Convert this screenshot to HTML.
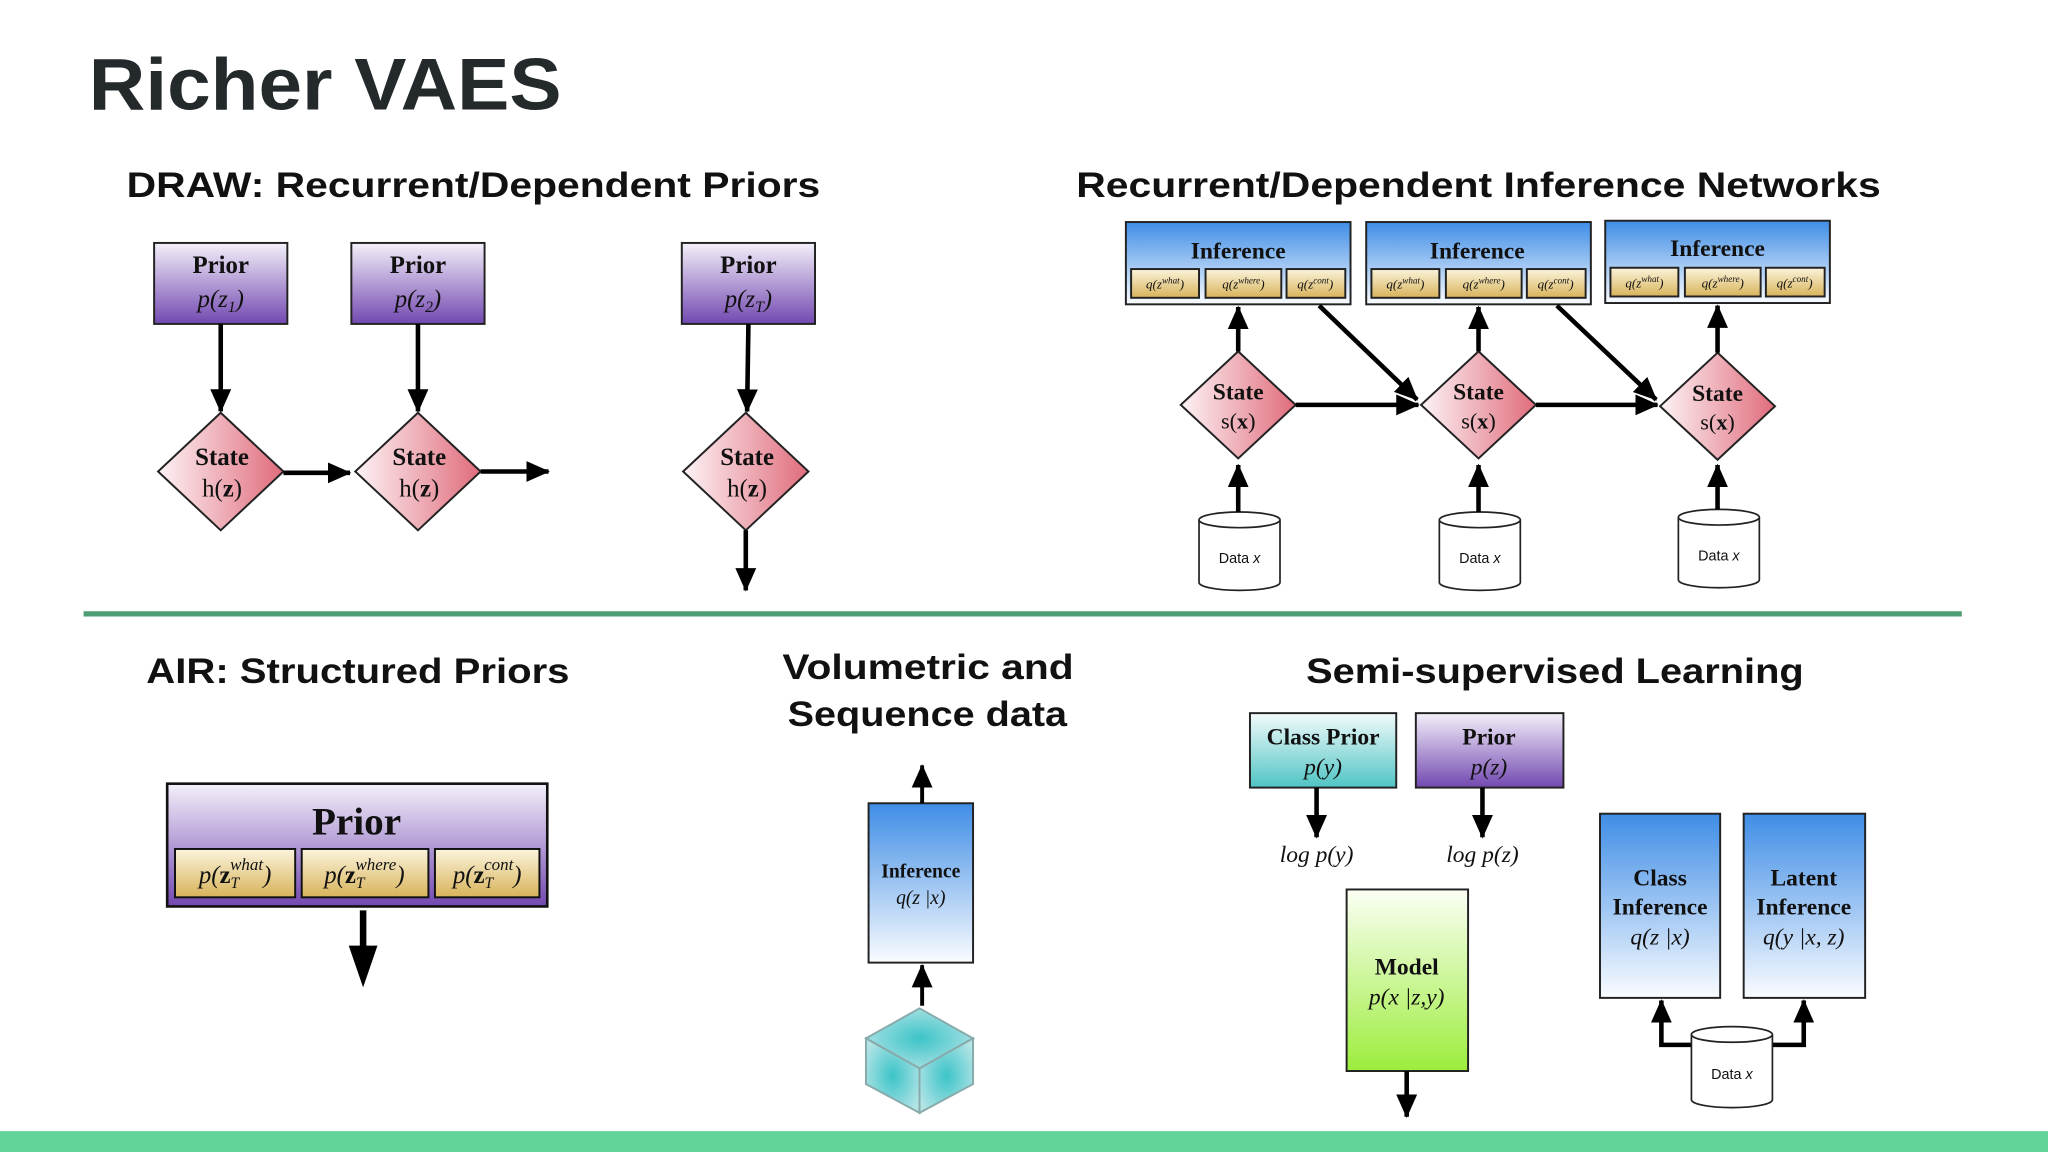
<!DOCTYPE html>
<html><head><meta charset="utf-8"><style>html,body{margin:0;padding:0;background:#fff;}svg{display:block}</style></head>
<body>
<svg width="2048" height="1152" viewBox="0 0 1568 882" xmlns="http://www.w3.org/2000/svg">
<defs>
<marker id="ah" markerUnits="userSpaceOnUse" markerWidth="18" markerHeight="18" refX="17" refY="9" orient="auto" viewBox="0 0 18 18"><path d="M0,1 L18,9 L0,17 z" fill="#000"/></marker>
<linearGradient id="pur" x1="0" y1="0" x2="0" y2="1"><stop offset="0" stop-color="#f4f0fa"/><stop offset="1" stop-color="#7248b0"/></linearGradient>
<linearGradient id="pink" x1="0" y1="0" x2="1" y2="0"><stop offset="0" stop-color="#fdf3f5"/><stop offset="1" stop-color="#e06c7c"/></linearGradient>
<linearGradient id="blue" x1="0" y1="0" x2="0" y2="1"><stop offset="0" stop-color="#3f8de6"/><stop offset="1" stop-color="#fafcff"/></linearGradient>
<linearGradient id="yel" x1="0" y1="0" x2="0" y2="1"><stop offset="0" stop-color="#fbf4dc"/><stop offset="1" stop-color="#d8b35a"/></linearGradient>
<linearGradient id="teal" x1="0" y1="0" x2="0" y2="1"><stop offset="0" stop-color="#f3fbfb"/><stop offset="1" stop-color="#4fc4c4"/></linearGradient>
<linearGradient id="grn" x1="0" y1="0" x2="0" y2="1"><stop offset="0" stop-color="#fbfff4"/><stop offset="1" stop-color="#9ced3c"/></linearGradient>
<radialGradient id="cube" cx="0.5" cy="0.5" r="0.6"><stop offset="0" stop-color="#3cc4c8"/><stop offset="1" stop-color="#b4e4e6"/></radialGradient>
</defs>
<rect width="1568" height="882" fill="#fff"/>
<g font-family="Liberation Sans, sans-serif" font-weight="bold" fill="#111">
<text x="68" y="84" font-size="56" fill="#24292b" textLength="362" lengthAdjust="spacingAndGlyphs">Richer VAES</text>
<text x="97" y="151" font-size="27" textLength="531" lengthAdjust="spacingAndGlyphs">DRAW: Recurrent/Dependent Priors</text>
<text x="824" y="151" font-size="27" textLength="616" lengthAdjust="spacingAndGlyphs">Recurrent/Dependent Inference Networks</text>
<text x="112" y="523" font-size="27" textLength="324" lengthAdjust="spacingAndGlyphs">AIR: Structured Priors</text>
<text x="599" y="520" font-size="27" textLength="223" lengthAdjust="spacingAndGlyphs">Volumetric and</text>
<text x="603" y="556" font-size="27" textLength="214" lengthAdjust="spacingAndGlyphs">Sequence data</text>
<text x="1000" y="523" font-size="27" textLength="381" lengthAdjust="spacingAndGlyphs">Semi-supervised Learning</text>
</g>
<line x1="64" y1="470" x2="1502" y2="470" stroke="#4f9d74" stroke-width="4"/>
<rect x="0" y="866" width="1568" height="16" fill="#62d39a"/>

<g font-family="Liberation Serif, serif" fill="#111" stroke-linecap="butt">
<!-- DRAW -->
<g stroke="#222" stroke-width="1.5">
<rect x="118" y="186" width="102" height="62" fill="url(#pur)"/>
<rect x="269" y="186" width="102" height="62" fill="url(#pur)"/>
<rect x="522" y="186" width="102" height="62" fill="url(#pur)"/>
<polygon points="169,316 217,361 169,406 121,361" fill="url(#pink)"/>
<polygon points="320,316 368,361 320,406 272,361" fill="url(#pink)"/>
<polygon points="571,316 619,361 571,406 523,361" fill="url(#pink)"/>
</g>
<g font-size="19" text-anchor="middle">
<text x="169" y="209" font-weight="bold">Prior</text><text x="169" y="235" font-style="italic">p(z<tspan font-size="12" dy="4">1</tspan><tspan dy="-4">)</tspan></text>
<text x="320" y="209" font-weight="bold">Prior</text><text x="320" y="235" font-style="italic">p(z<tspan font-size="12" dy="4">2</tspan><tspan dy="-4">)</tspan></text>
<text x="573" y="209" font-weight="bold">Prior</text><text x="573" y="235" font-style="italic">p(z<tspan font-size="12" dy="4">T</tspan><tspan dy="-4">)</tspan></text>
<text x="170" y="356" font-weight="bold">State</text><text x="170" y="380">h(<tspan font-weight="bold">z</tspan>)</text>
<text x="321" y="356" font-weight="bold">State</text><text x="321" y="380">h(<tspan font-weight="bold">z</tspan>)</text>
<text x="572" y="356" font-weight="bold">State</text><text x="572" y="380">h(<tspan font-weight="bold">z</tspan>)</text>
</g>
<g stroke="#000" stroke-width="3.5" marker-end="url(#ah)">
<line x1="169" y1="248" x2="169" y2="315"/>
<line x1="320" y1="248" x2="320" y2="315"/>
<line x1="573" y1="248" x2="572" y2="315"/>
<line x1="217" y1="362" x2="268" y2="362"/>
<line x1="368" y1="361" x2="420" y2="361"/>
<line x1="571" y1="406" x2="571" y2="452"/>
</g>

<!-- Recurrent inference -->
<g stroke="#222" stroke-width="1.5">
<rect x="862" y="170" width="172" height="63" fill="url(#blue)"/>
<rect x="1046" y="170" width="172" height="63" fill="url(#blue)"/>
<rect x="1229" y="169" width="172" height="63" fill="url(#blue)"/>
<rect x="866" y="206" width="52" height="22" fill="url(#yel)"/><rect x="923" y="206" width="58" height="22" fill="url(#yel)"/><rect x="985" y="206" width="45" height="22" fill="url(#yel)"/>
<rect x="1050" y="206" width="52" height="22" fill="url(#yel)"/><rect x="1107" y="206" width="58" height="22" fill="url(#yel)"/><rect x="1169" y="206" width="45" height="22" fill="url(#yel)"/>
<rect x="1233" y="205" width="52" height="22" fill="url(#yel)"/><rect x="1290" y="205" width="58" height="22" fill="url(#yel)"/><rect x="1352" y="205" width="45" height="22" fill="url(#yel)"/>
<polygon points="948,269 992,310 948,351 904,310" fill="url(#pink)"/>
<polygon points="1132,269 1176,310 1132,351 1088,310" fill="url(#pink)"/>
<polygon points="1315,270 1359,311 1315,352 1271,311" fill="url(#pink)"/>
</g>
<g font-size="18" text-anchor="middle" font-weight="bold">
<text x="948" y="198">Inference</text><text x="1131" y="198">Inference</text><text x="1315" y="196">Inference</text>
<text x="948" y="306">State</text><text x="1132" y="306">State</text><text x="1315" y="307">State</text>
</g>
<g font-size="17" text-anchor="middle">
<text x="948" y="328">s(<tspan font-weight="bold">x</tspan>)</text><text x="1132" y="328">s(<tspan font-weight="bold">x</tspan>)</text><text x="1315" y="329">s(<tspan font-weight="bold">x</tspan>)</text>
</g>
<g font-size="10" text-anchor="middle" font-style="italic">
<text x="892" y="221">q(z<tspan font-size="7" dy="-4">what</tspan><tspan dy="4">)</tspan></text><text x="952" y="221">q(z<tspan font-size="7" dy="-4">where</tspan><tspan dy="4">)</tspan></text><text x="1007" y="221">q(z<tspan font-size="7" dy="-4">cont</tspan><tspan dy="4">)</tspan></text>
<text x="1076" y="221">q(z<tspan font-size="7" dy="-4">what</tspan><tspan dy="4">)</tspan></text><text x="1136" y="221">q(z<tspan font-size="7" dy="-4">where</tspan><tspan dy="4">)</tspan></text><text x="1191" y="221">q(z<tspan font-size="7" dy="-4">cont</tspan><tspan dy="4">)</tspan></text>
<text x="1259" y="220">q(z<tspan font-size="7" dy="-4">what</tspan><tspan dy="4">)</tspan></text><text x="1319" y="220">q(z<tspan font-size="7" dy="-4">where</tspan><tspan dy="4">)</tspan></text><text x="1374" y="220">q(z<tspan font-size="7" dy="-4">cont</tspan><tspan dy="4">)</tspan></text>
</g>
<g stroke="#222" stroke-width="1.3" fill="#fff">
<path d="M918,398 v48 a31,6 0 0 0 62,0 v-48"/><ellipse cx="949" cy="398" rx="31" ry="6"/>
<path d="M1102,398 v48 a31,6 0 0 0 62,0 v-48"/><ellipse cx="1133" cy="398" rx="31" ry="6"/>
<path d="M1285,396 v48 a31,6 0 0 0 62,0 v-48"/><ellipse cx="1316" cy="396" rx="31" ry="6"/>
</g>
<g font-family="Liberation Sans, sans-serif" font-size="11" text-anchor="middle">
<text x="949" y="431">Data <tspan font-style="italic">x</tspan></text>
<text x="1133" y="431">Data <tspan font-style="italic">x</tspan></text>
<text x="1316" y="429">Data <tspan font-style="italic">x</tspan></text>
</g>
<g stroke="#000" stroke-width="3.5" marker-end="url(#ah)">
<line x1="948" y1="269" x2="948" y2="235"/><line x1="1132" y1="269" x2="1132" y2="235"/><line x1="1315" y1="270" x2="1315" y2="234"/>
<line x1="948" y1="392" x2="948" y2="356"/><line x1="1132" y1="392" x2="1132" y2="356"/><line x1="1315" y1="390" x2="1315" y2="356"/>
<line x1="992" y1="310" x2="1086" y2="310"/><line x1="1176" y1="310" x2="1269" y2="310"/>
<line x1="1010" y1="234" x2="1085" y2="306"/><line x1="1192" y1="234" x2="1268" y2="306"/>
</g>

<!-- AIR -->
<rect x="128" y="600" width="291" height="94" fill="url(#pur)" stroke="#111" stroke-width="2"/>
<g stroke="#111" stroke-width="1.5"><rect x="134" y="650" width="92" height="37" fill="url(#yel)"/><rect x="231" y="650" width="97" height="37" fill="url(#yel)"/><rect x="333" y="650" width="80" height="37" fill="url(#yel)"/></g>
<text x="273" y="639" font-size="30" font-weight="bold" text-anchor="middle">Prior</text>
<g font-size="19" text-anchor="middle" font-style="italic">
<text x="180" y="676">p(<tspan font-weight="bold" font-style="normal">z</tspan><tspan font-size="12" dy="4">T</tspan><tspan font-size="13" dy="-14" dx="-7">what</tspan><tspan dy="10">)</tspan></text>
<text x="279" y="676">p(<tspan font-weight="bold" font-style="normal">z</tspan><tspan font-size="12" dy="4">T</tspan><tspan font-size="13" dy="-14" dx="-7">where</tspan><tspan dy="10">)</tspan></text>
<text x="373" y="676">p(<tspan font-weight="bold" font-style="normal">z</tspan><tspan font-size="12" dy="4">T</tspan><tspan font-size="13" dy="-14" dx="-7">cont</tspan><tspan dy="10">)</tspan></text>
</g>
<line x1="278" y1="697" x2="278" y2="728" stroke="#000" stroke-width="5"/>
<polygon points="267,724 289,724 278,756" fill="#000"/>

<!-- Volumetric -->
<rect x="665" y="615" width="80" height="122" fill="url(#blue)" stroke="#222" stroke-width="1.5"/>
<text x="705" y="672" font-size="15" font-weight="bold" text-anchor="middle">Inference</text>
<text x="705" y="692" font-size="15" font-style="italic" text-anchor="middle">q(z |x)</text>
<g stroke="#000" stroke-width="3" marker-end="url(#ah)">
<line x1="706" y1="615" x2="706" y2="586"/><line x1="706" y1="770" x2="706" y2="739"/>
</g>
<g stroke="#8aa" stroke-width="1.5" fill="url(#cube)">
<polygon points="704,772 745,795 704,818 663,795"/>
<polygon points="663,795 704,818 704,852 663,830"/>
<polygon points="745,795 704,818 704,852 745,830"/>
</g>

<!-- Semi-supervised -->
<g stroke="#222" stroke-width="1.5">
<rect x="957" y="546" width="112" height="57" fill="url(#teal)"/>
<rect x="1084" y="546" width="113" height="57" fill="url(#pur)"/>
<rect x="1031" y="681" width="93" height="139" fill="url(#grn)"/>
<rect x="1225" y="623" width="92" height="141" fill="url(#blue)"/>
<rect x="1335" y="623" width="93" height="141" fill="url(#blue)"/>
</g>
<g font-size="18" text-anchor="middle">
<text x="1013" y="570" font-weight="bold">Class Prior</text><text x="1013" y="593" font-style="italic">p(y)</text>
<text x="1140" y="570" font-weight="bold">Prior</text><text x="1140" y="593" font-style="italic">p(z)</text>
<text x="1008" y="660" font-style="italic">log p(y)</text><text x="1135" y="660" font-style="italic">log p(z)</text>
<text x="1077" y="746" font-weight="bold">Model</text><text x="1077" y="769" font-style="italic">p(x |z,y)</text>
<text x="1271" y="678" font-weight="bold">Class</text><text x="1271" y="700" font-weight="bold">Inference</text><text x="1271" y="723" font-style="italic">q(z |x)</text>
<text x="1381" y="678" font-weight="bold">Latent</text><text x="1381" y="700" font-weight="bold">Inference</text><text x="1381" y="723" font-style="italic">q(y |x, z)</text>
</g>
<g stroke="#000" stroke-width="3.5" fill="none">
<line x1="1008" y1="603" x2="1008" y2="641" marker-end="url(#ah)"/>
<line x1="1135" y1="603" x2="1135" y2="641" marker-end="url(#ah)"/>
<line x1="1077" y1="820" x2="1077" y2="855" marker-end="url(#ah)"/>
<polyline points="1296,800 1272,800 1272,766" marker-end="url(#ah)"/>
<polyline points="1356,800 1381,800 1381,766" marker-end="url(#ah)"/>
</g>
<g stroke="#222" stroke-width="1.3" fill="#fff">
<path d="M1295,792 v50 a31,6 0 0 0 62,0 v-50"/><ellipse cx="1326" cy="792" rx="31" ry="6"/>
</g>
<text x="1326" y="826" font-family="Liberation Sans, sans-serif" font-size="11" text-anchor="middle">Data <tspan font-style="italic">x</tspan></text>
</g>
</svg>
</body></html>
